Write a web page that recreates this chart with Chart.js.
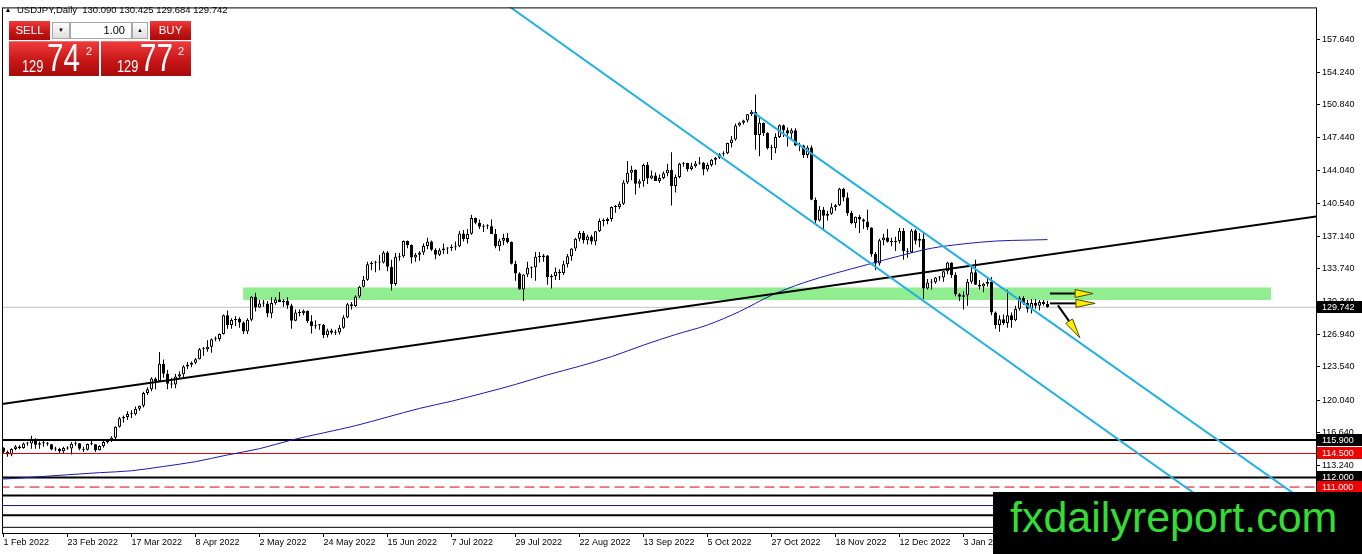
<!DOCTYPE html>
<html>
<head>
<meta charset="utf-8">
<title>USDJPY Daily</title>
<script src="https://cdn.jsdelivr.net/npm/chart.js@4.4.1/dist/chart.umd.min.js"></script>
<style>
  body { margin: 0; background: #fff; overflow: hidden; font-family: "Liberation Sans", Arial, sans-serif; }
  #wrap { position: absolute; left: 0; top: 0; width: 1362px; height: 554px; }
  #title { position: absolute; left: 6px; top: 4px; font-size: 9.5px; line-height: 11px; color: #000; white-space: pre; }
  #title .tri { display: inline-block; width: 0; height: 0; border-left: 2.5px solid transparent; border-right: 2.5px solid transparent; border-bottom: 4px solid #000; margin-right: 7px; vertical-align: 1px; }
  .red { position: absolute; color: #fff; background: linear-gradient(#ee3a3a, #c81616 55%, #a80a0a); }
  .btn { text-align: center; font-size: 11.5px; line-height: 19px; height: 19px; width: 41px; top: 21px; }
  .spin { position: absolute; top: 22px; height: 17px; box-sizing: border-box; border: 1px solid #a8a8a8; background: linear-gradient(#fdfdfd, #dedede); font-size: 6px; line-height: 15px; text-align: center; color: #000; }
  #lot { position: absolute; left: 70px; top: 22px; width: 62px; height: 17px; box-sizing: border-box; border: 1px solid #a8a8a8; background: #fff; font-size: 11px; line-height: 15px; text-align: right; padding-right: 6px; }
  .px { top: 41px; width: 90px; height: 35px; border-top: 1px solid #f07070; box-sizing: border-box; }
  .px span { position: absolute; line-height: 1; transform-origin: left center; }
  .small { font-size: 16px; top: 17px; transform: scaleX(0.8); }
  .big { font-size: 38px; top: -3px; transform: scaleX(0.78); }
  .sup { font-size: 11px; top: 4px; }
  #brand { position: absolute; left: 993px; top: 492px; width: 369px; height: 62px; background: #000; }
  #brand span { position: absolute; left: 17px; top: 4px; font-size: 43px; line-height: 1; color: #33dd33; }
</style>
</head>
<body>
<div id="wrap"><canvas id="chart"></canvas></div>

<div id="title"><span class="tri"></span>USDJPY,Daily  130.090 130.425 129.684 129.742</div>
<div class="red btn" style="left:9px">SELL</div>
<div class="spin" style="left:52px;width:18px">&#9660;</div>
<div id="lot">1.00</div>
<div class="spin" style="left:132px;width:16px">&#9650;</div>
<div class="red btn" style="left:150px">BUY</div>
<div class="red px" style="left:9px"><span class="small" style="left:13px">129</span><span class="big" style="left:38px">74</span><span class="sup" style="left:77px">2</span></div>
<div class="red px" style="left:101px"><span class="small" style="left:16px">129</span><span class="big" style="left:39px">77</span><span class="sup" style="left:77px">2</span></div>
<div id="brand"><span>fxdailyreport.com</span></div>

<script>
// bar dates shown on the time axis, one every 16 daily bars
const tickDates = ['1 Feb 2022', '23 Feb 2022', '17 Mar 2022', '8 Apr 2022', '2 May 2022', '24 May 2022',
	'15 Jun 2022', '7 Jul 2022', '29 Jul 2022', '22 Aug 2022', '13 Sep 2022', '5 Oct 2022',
	'27 Oct 2022', '18 Nov 2022', '12 Dec 2022', '3 Jan 2023', '25 Jan 2023', '16 Feb 2023'];
const priceTicks = [157.64, 154.24, 150.84, 147.44, 144.04, 140.54, 137.14, 133.74, 130.34, 126.94, 123.54, 120.04, 116.64, 113.24];

// daily candles, 1 Feb 2022 .. 1 Feb 2023
const opens = [
	115.1,114.68,114.40,114.96,115.23,115.08,115.55,115.55,116.04,115.42,115.57,115.58,115.47,114.92,114.98,114.74,115.06,115.02,115.51,115.56,
	114.99,114.88,115.48,115.47,114.83,115.28,115.71,115.82,116.13,117.29,118.18,118.31,118.63,118.58,119.16,119.48,120.80,121.21,122.32,122.05,123.85,122.81,121.78,
	121.70,122.52,122.77,123.58,123.75,123.96,124.33,125.37,125.38,125.64,126.40,126.43,126.96,128.90,127.90,128.42,128.53,128.16,127.22,128.44,130.83,
	129.72,130.15,130.13,129.09,130.19,130.56,130.28,130.43,129.94,128.35,129.19,129.14,129.39,128.28,127.77,127.86,127.91,126.85,127.32,127.10,127.12,127.62,
	128.69,130.05,129.87,130.88,131.89,132.61,134.23,134.38,134.44,134.40,135.45,133.97,132.16,135.01,135.07,136.65,136.24,134.93,135.22,135.45,136.13,136.61,
	135.73,135.22,135.70,135.86,135.92,136.00,136.10,137.43,136.86,137.42,139.04,138.55,138.15,138.21,138.20,137.38,136.11,136.68,136.97,136.56,134.27,
	133.27,131.61,133.17,133.87,133.92,135.00,134.98,135.15,132.88,133.01,133.45,133.31,134.22,135.06,135.88,136.90,137.49,136.74,137.13,136.61,137.67,138.75,138.73,
	138.95,140.21,140.21,140.55,142.76,143.78,144.09,142.62,142.88,144.57,143.16,143.48,142.92,143.22,143.72,144.09,142.38,143.34,144.72,144.78,144.16,144.46,
	144.74,144.81,144.12,144.58,145.12,145.34,145.71,145.80,146.86,147.23,148.70,148.98,149.23,149.88,150.13,147.71,148.99,147.92,146.36,146.32,147.50,
	148.71,148.20,147.87,148.20,146.61,146.61,145.63,146.40,140.95,138.78,139.90,139.29,139.50,140.18,140.38,142.11,141.20,139.58,138.50,139.18,138.89,138.69,
	138.06,135.31,134.31,136.74,137.03,136.58,136.56,136.65,137.72,135.59,135.49,137.75,136.68,136.89,131.70,132.33,132.36,132.84,132.84,133.50,134.41,133.11,
	131.10,130.85,131.0,132.4,133.4,132.1,131.9,132.2,132.4,129.2,127.9,128.5,128.1,128.9,128.4,129.6,130.7,130.2,129.6,130.2,129.9,130.3,130.09
];
const highs = [
	115.15,114.8,115.05,115.35,115.35,115.65,115.7,116.34,116.1,115.75,115.8,115.7,115.5,115.2,115.1,115.2,115.25,115.7,115.75,115.6,
	115.2,115.55,115.8,115.5,115.35,115.8,116.0,116.3,117.35,118.3,118.45,118.9,119.0,119.4,119.5,120.95,121.4,122.45,122.45,125.09,124.3,123.2,122.4,
	122.8,123.05,123.7,124.05,124.1,124.45,125.5,125.6,126.3,126.5,126.7,127.0,129.0,129.4,128.6,128.8,128.7,128.3,128.6,130.9,131.25,
	130.5,130.5,130.4,130.8,130.8,131.35,130.6,130.8,130.1,129.5,129.5,129.5,129.4,128.9,128.4,128.0,128.0,127.5,127.5,127.4,127.9,128.9,
	130.2,130.3,130.98,132.0,133.0,134.5,134.55,134.6,135.2,135.6,135.6,134.7,135.4,135.4,136.7,136.7,136.3,135.4,135.6,136.4,137.0,136.7,
	135.9,135.9,136.4,136.0,136.3,136.6,137.7,137.8,137.9,139.4,139.1,138.9,138.4,138.4,138.9,137.9,136.9,137.4,137.5,136.6,134.6,
	133.4,133.2,134.5,134.0,135.5,135.5,135.3,135.2,133.2,133.9,133.7,134.6,135.3,135.9,137.0,137.7,137.7,137.3,137.3,137.7,139.0,139.0,139.1,
	140.25,140.4,140.8,143.0,144.99,144.5,144.1,143.1,144.7,144.9,144.0,143.8,143.6,143.9,144.7,145.9,143.6,144.8,144.9,144.8,144.8,145.0,
	145.4,144.9,144.8,145.2,145.4,145.8,146.0,146.9,147.6,148.9,149.1,149.3,149.9,150.3,151.94,149.7,149.0,148.0,146.7,147.9,148.8,
	148.8,148.5,148.4,148.4,146.9,146.7,146.6,146.6,141.2,140.3,140.2,139.8,140.6,140.5,142.2,142.2,141.7,139.8,139.2,139.4,139.0,139.9,
	138.1,135.5,136.9,137.4,137.9,137.0,137.1,138.0,138.0,135.9,137.9,137.9,137.5,137.5,132.7,132.7,132.9,133.0,133.5,134.5,134.4,133.4,
	131.2,131.4,132.7,134.0,134.7,132.6,132.3,132.9,132.9,129.3,128.9,129.0,131.58,129.2,129.9,130.9,130.9,130.5,130.6,130.6,130.5,130.5,130.425
];
const lows = [
	114.5,114.15,114.2,114.85,114.95,115.0,115.3,115.0,115.0,115.0,115.2,115.3,114.85,114.75,114.55,114.5,114.9,114.4,115.3,114.85,
	114.65,114.8,115.35,114.65,114.8,115.1,115.55,115.7,116.0,117.2,117.7,118.0,118.2,118.45,118.95,119.3,120.6,121.0,121.2,122.0,122.4,121.2,121.3,
	121.3,122.3,122.4,123.3,123.5,123.8,124.3,124.7,125.1,125.0,126.2,126.2,126.9,127.5,127.5,127.8,127.6,126.95,126.95,128.3,129.3,
	129.7,129.8,128.7,128.6,130.0,130.3,129.8,129.6,127.5,128.3,128.8,128.9,128.1,127.0,127.5,127.4,126.55,126.6,126.9,126.85,126.9,127.5,
	128.6,129.5,129.8,130.7,131.8,132.5,133.6,133.4,133.6,134.3,133.5,131.5,132.0,134.6,134.9,135.9,134.3,134.5,134.6,135.2,135.8,135.6,
	134.75,135.1,135.3,135.3,135.6,135.7,136.0,136.6,136.4,137.3,138.4,137.9,137.6,137.9,137.4,135.9,135.6,136.2,136.4,134.2,132.5,
	131.6,130.41,132.9,132.8,132.5,134.4,134.5,132.1,131.7,132.6,132.6,133.1,133.9,134.6,135.6,136.6,136.4,136.3,136.3,136.2,137.6,138.2,138.4,
	138.7,139.6,140.0,140.4,142.6,143.0,141.5,142.2,142.3,142.6,143.1,142.9,142.7,143.1,143.4,140.36,141.7,143.2,144.4,143.9,144.0,144.3,
	144.6,143.5,143.9,144.4,144.6,145.2,145.5,145.7,146.4,147.1,148.6,148.8,149.0,149.7,146.18,145.5,147.6,146.2,145.1,145.8,147.4,
	147.5,146.5,147.2,146.55,146.0,145.3,145.3,140.9,138.5,138.7,137.7,138.8,139.4,139.8,140.3,140.8,139.3,138.4,138.0,137.5,137.9,137.8,
	135.0,133.6,134.1,136.2,136.5,136.1,135.6,136.4,134.7,134.9,135.4,136.3,136.0,130.6,131.6,131.6,132.2,132.5,132.4,133.2,132.8,130.9,
	130.4,129.5,129.9,132.2,132.1,131.6,131.3,131.9,128.9,127.5,127.2,127.9,127.6,127.6,128.3,129.4,130.0,129.2,129.1,129.6,129.4,129.9,129.684
];
const closes = [
	114.68,114.40,114.96,115.23,115.08,115.55,115.55,116.04,115.42,115.57,115.58,115.47,114.92,114.98,114.74,115.06,115.02,115.51,115.56,114.99,
	114.88,115.48,115.47,114.83,115.28,115.71,115.82,116.13,117.29,118.18,118.31,118.63,118.58,119.16,119.48,120.80,121.21,122.32,122.05,123.85,122.81,121.78,121.70,
	122.52,122.77,123.58,123.75,123.96,124.33,125.37,125.38,125.64,126.40,126.43,126.96,128.90,127.90,128.42,128.53,128.16,127.22,128.44,130.83,129.72,
	130.15,130.13,129.09,130.19,130.56,130.28,130.43,129.94,128.35,129.19,129.14,129.39,128.28,127.77,127.86,127.91,126.85,127.32,127.10,127.12,127.62,128.69,
	130.05,129.87,130.88,131.89,132.61,134.23,134.38,134.44,134.40,135.45,133.97,132.16,135.01,135.07,136.65,136.24,134.93,135.22,135.45,136.13,136.61,135.73,
	135.22,135.70,135.86,135.92,136.00,136.10,137.43,136.86,137.42,139.04,138.55,138.15,138.21,138.20,137.38,136.11,136.68,136.97,136.56,134.27,133.27,
	131.61,133.17,133.87,133.92,135.00,134.98,135.15,132.88,133.01,133.45,133.31,134.22,135.06,135.88,136.90,137.49,136.74,137.13,136.61,137.67,138.75,138.73,138.95,
	140.21,140.21,140.55,142.76,143.78,144.09,142.62,142.88,144.57,143.16,143.48,142.92,143.22,143.72,144.09,142.38,143.34,144.72,144.78,144.16,144.46,144.74,
	144.81,144.12,144.58,145.12,145.34,145.71,145.80,146.86,147.23,148.70,148.98,149.23,149.88,150.13,147.71,148.99,147.92,146.36,146.32,147.50,148.71,
	148.20,147.87,148.20,146.61,146.61,145.63,146.40,140.95,138.78,139.90,139.29,139.50,140.18,140.38,142.11,141.20,139.58,138.50,139.18,138.89,138.69,138.06,
	135.31,134.31,136.74,137.03,136.58,136.56,136.65,137.72,135.59,135.49,137.75,136.68,136.89,131.70,132.33,132.36,132.84,132.84,133.50,134.41,133.11,131.10,
	130.85,131.0,132.4,133.4,132.1,131.9,132.2,132.4,129.2,127.9,128.5,128.1,128.9,128.4,129.6,130.7,130.2,129.6,130.2,129.9,130.3,130.09,129.742
];

// moving average, every 8 bars
const maBars = [0, 8, 16, 24, 32, 40, 48, 56, 64, 72, 80, 88, 96, 104, 112, 120, 128, 136, 144, 152, 160, 168, 176, 184, 192, 200, 208, 216, 224, 232, 240, 248, 256, 261];
const maValues = [111.83, 112.05, 112.28, 112.5, 112.7, 113.15, 113.65, 114.35, 115.0, 115.9, 116.65, 117.4, 118.3, 119.2, 119.95, 120.8, 121.7, 122.7,
	123.6, 124.6, 125.8, 126.9, 127.9, 129.3, 131.0, 132.3, 133.3, 134.2, 135.1, 135.9, 136.35, 136.65, 136.75, 136.8];

// drawn objects (bar index, price)
const trendLine = [[-0.4, 119.66], [328.2, 139.21]];
const channelTop = [[187.4, 150.07], [328.1, 108.70]];
const channelBottom = [[125.4, 161.42], [314.05, 105.49]];
const levelPrices = [115.9, 114.5, 112.0, 111.0, 110.13, 109.07, 108.07, 106.80];
const levelColors = ['#000', '#e00000', '#000', '#e00000', '#000', '#10108c', '#000', '#000'];
const levelWidths = [2, 1, 2, 1, 2, 1, 2, 1];
const bidPrice = 129.742;
const zone = { from: 59.9, to: 316.9, low: 130.50, high: 131.81 };
const arrows = [
	{ tail: [261.6, 131.18], base: [267.9, 131.18], tip: [272.4, 131.18] },
	{ tail: [261.6, 130.15], base: [268.1, 130.15], tip: [272.9, 130.15] },
	{ tail: [263.6, 129.95], base: [266.4, 128.3], tip: [269.1, 126.56] }
];
const axisTags = [
	{ price: 129.742, color: '#000' },
	{ price: 115.9, color: '#000' },
	{ price: 114.5, color: '#f00000' },
	{ price: 112.0, color: '#000' },
	{ price: 111.0, color: '#f00000' }
];

const axisFont = { family: '"Liberation Sans", Arial, sans-serif', size: 9 };

let wickData = highs.map((h, i) => ({ x: i, y: [lows[i], h] }));
let bodyData = opens.map((o, i) => ({ x: i, y: [o, closes[i]] }));
let bodyColors = opens.map((o, i) => closes[i] >= o ? '#fff' : '#000');
let toPoints = (pts) => pts.map(p => ({ x: p[0], y: p[1] }));

let datasets = [
	{
		type: 'bar', data: wickData, order: 6, grouped: false,
		barThickness: 1, backgroundColor: '#000', borderWidth: 0, inflateAmount: 0
	},
	{
		type: 'bar', data: bodyData, order: 5, grouped: false,
		barThickness: 3, backgroundColor: bodyColors, borderColor: '#000', borderWidth: 1,
		borderSkipped: false, minBarLength: 1, inflateAmount: 0
	},
	{
		type: 'line', data: [{ x: -1, y: bidPrice }, { x: 400, y: bidPrice }], order: 7,
		borderColor: '#c0c0c0', borderWidth: 1, pointRadius: 0
	},
	{
		type: 'line', data: maBars.map((b, i) => ({ x: b, y: maValues[i] })), order: 3,
		borderColor: '#1a1aa8', borderWidth: 1, pointRadius: 0, cubicInterpolationMode: 'monotone'
	},
	{ type: 'line', data: toPoints(trendLine), order: 2, borderColor: '#000', borderWidth: 2, pointRadius: 0 },
	{ type: 'line', data: toPoints(channelTop), order: 1, borderColor: '#22b0e6', borderWidth: 2, pointRadius: 0 },
	{ type: 'line', data: toPoints(channelBottom), order: 1, borderColor: '#22b0e6', borderWidth: 2, pointRadius: 0 }
];

levelPrices.forEach((p, i) => {
	datasets.push({
		type: 'line', data: [{ x: -1, y: p }, { x: 400, y: p }], order: 4,
		borderColor: levelColors[i], borderWidth: levelWidths[i], pointRadius: 0,
		borderDash: p === 111.0 ? [10, 5] : []
	});
});

// green support zone, behind the candles
const zonePlugin = {
	id: 'zone',
	beforeDatasetsDraw(chart) {
		const { ctx, scales: { x, y } } = chart;
		ctx.save();
		ctx.fillStyle = '#90ee90';
		let left = x.getPixelForValue(zone.from);
		let top = y.getPixelForValue(zone.high);
		ctx.fillRect(left, top, x.getPixelForValue(zone.to) - left, y.getPixelForValue(zone.low) - top);
		ctx.restore();
	}
};

// arrows, chart frame and the price tags on the axis
const overlayPlugin = {
	id: 'overlay',
	afterDatasetsDraw(chart) {
		const { ctx, chartArea, scales: { x, y } } = chart;
		ctx.save();
		arrows.forEach(a => {
			let t = [x.getPixelForValue(a.tail[0]), y.getPixelForValue(a.tail[1])];
			let b = [x.getPixelForValue(a.base[0]), y.getPixelForValue(a.base[1])];
			let p = [x.getPixelForValue(a.tip[0]), y.getPixelForValue(a.tip[1])];
			ctx.strokeStyle = '#000';
			ctx.lineWidth = 2;
			ctx.beginPath();
			ctx.moveTo(t[0], t[1]);
			ctx.lineTo(b[0], b[1]);
			ctx.stroke();
			let dx = p[0] - b[0], dy = p[1] - b[1];
			let len = Math.hypot(dx, dy);
			let nx = -dy / len * 4, ny = dx / len * 4;
			ctx.beginPath();
			ctx.moveTo(b[0] + nx, b[1] + ny);
			ctx.lineTo(p[0], p[1]);
			ctx.lineTo(b[0] - nx, b[1] - ny);
			ctx.closePath();
			ctx.fillStyle = '#ffee00';
			ctx.fill();
			ctx.lineWidth = 1;
			ctx.strokeStyle = '#4a4a00';
			ctx.stroke();
		});
		ctx.strokeStyle = '#000';
		ctx.lineWidth = 1;
		ctx.strokeRect(chartArea.left + 0.5, chartArea.top + 0.5, chartArea.width, chartArea.height);
		ctx.restore();
	},
	afterDraw(chart) {
		const { ctx, chartArea, scales: { y } } = chart;
		ctx.save();
		ctx.font = '9px "Liberation Sans", Arial, sans-serif';
		ctx.textBaseline = 'middle';
		axisTags.forEach(tag => {
			let py = Math.round(y.getPixelForValue(tag.price));
			ctx.fillStyle = tag.color;
			ctx.fillRect(chartArea.right + 1, py - 6, 46, 12);
			ctx.fillStyle = '#fff';
			ctx.fillText(tag.price.toFixed(3), chartArea.right + 6, py + 0.5);
		});
		ctx.restore();
	}
};

new Chart(document.getElementById('chart'), {
	type: 'line',
	data: { datasets: datasets },
	options: {
		responsive: true,
		maintainAspectRatio: false,
		animation: false,
		events: [],
		layout: { padding: { top: 2, left: 2, right: 0, bottom: 0 } },
		plugins: { legend: { display: false }, tooltip: { enabled: false } },
		scales: {
			x: {
				type: 'linear',
				min: -0.375,
				max: 328.125,
				offset: false,
				afterBuildTicks: (scale) => { scale.ticks = tickDates.map((d, k) => ({ value: k * 16 })); },
				afterFit: (scale) => { scale.height = 21; },
				ticks: {
					callback: (v, i) => tickDates[i],
					autoSkip: false, maxRotation: 0, minRotation: 0,
					align: 'start', padding: 0, color: '#000', font: axisFont
				},
				grid: { offset: false, drawOnChartArea: false, drawTicks: true, tickLength: 4, color: '#000' },
				border: { display: false }
			},
			y: {
				type: 'linear',
				position: 'right',
				min: 106.21,
				max: 161.01,
				afterBuildTicks: (scale) => { scale.ticks = priceTicks.map(v => ({ value: v })); },
				afterFit: (scale) => { scale.width = 46; },
				ticks: {
					callback: (v) => v.toFixed(3),
					autoSkip: false, padding: 2, color: '#000', font: axisFont
				},
				grid: { drawOnChartArea: false, drawTicks: true, tickLength: 4, color: '#000' },
				border: { display: false }
			}
		}
	},
	plugins: [zonePlugin, overlayPlugin]
});
</script>
</body>
</html>
